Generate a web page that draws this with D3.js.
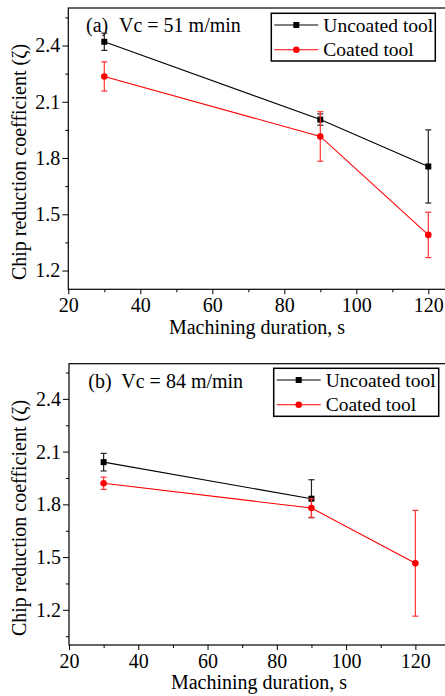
<!DOCTYPE html>
<html><head><meta charset="utf-8">
<script src="https://cdn.jsdelivr.net/npm/d3@7"></script>
<style>
html,body{margin:0;padding:0;background:#fff;}
svg{display:block;}
text{font-family:"Liberation Serif","Times New Roman",serif;fill:#000;}
</style></head>
<body>
<svg id="chart" width="445" height="696"></svg>
<script>
// ---- data ----
const durations = [30, 90, 120];
const xTicks = [20, 40, 60, 80, 100, 120];
const xMinorTicks = [30, 50, 70, 90, 110, 130];
const yTicks = [1.2, 1.5, 1.8, 2.1, 2.4];
const yMinorTicks = [1.05, 1.35, 1.65, 1.95, 2.25, 2.55];
const seriesNames = ["Uncoated tool", "Coated tool"];

// panel (a) Vc = 51 m/min
const aUncoated = [2.42, 2.005, 1.755];
const aUncoatedErr = [0.046, 0.03, 0.195];
const aCoated = [2.235, 1.915, 1.39];
const aCoatedErr = [0.078, 0.132, 0.121];

// panel (b) Vc = 84 m/min
const bUncoatedX = [30, 90];
const bUncoated = [2.04, 1.832];
const bUncoatedErr = [0.05, 0.108];
const bCoated = [1.92, 1.779];
const bCoatedX = [30, 90, 120];
const bCoatedAll = [1.92, 1.779, 1.465];
const bCoatedErr = [0.035, 0.053, 0.301];

const svg = d3.select("#chart");

function panel(cfg) {
  const g = svg.append("g");
  const x = d3.scaleLinear().domain([20, 130]).range([cfg.left, cfg.right]);
  const y = d3.scaleLinear().domain(cfg.yDomain).range([cfg.bottom, cfg.top]);

  // frame
  g.append("rect").attr("x", cfg.left).attr("y", cfg.top)
    .attr("width", cfg.right - cfg.left).attr("height", cfg.bottom - cfg.top)
    .attr("fill", "none").attr("stroke", "#000").attr("stroke-width", 1.2);

  // axes
  const xa = g.append("g").attr("transform", `translate(0,${cfg.bottom})`)
    .call(d3.axisBottom(x).tickValues(xTicks).tickSize(5).tickPadding(4).tickFormat(d3.format("d")));
  g.append("g").attr("transform", `translate(0,${cfg.bottom})`)
    .call(d3.axisBottom(x).tickValues(xMinorTicks).tickSize(3).tickFormat(""));
  const ya = g.append("g").attr("transform", `translate(${cfg.left},0)`)
    .call(d3.axisLeft(y).tickValues(yTicks).tickSize(6).tickPadding(2).tickFormat(d3.format(".1f")));
  g.append("g").attr("transform", `translate(${cfg.left},0)`)
    .call(d3.axisLeft(y).tickValues(yMinorTicks.filter(v => v > cfg.yDomain[0])).tickSize(3).tickFormat(""));
  g.selectAll(".domain").remove();
  g.selectAll(".tick line").attr("stroke", "#000").attr("stroke-width", 1);
  xa.selectAll("text").attr("font-size", 20).attr("font-family", "Liberation Serif");
  ya.selectAll("text").attr("font-size", 20).attr("font-family", "Liberation Serif");

  // axis titles
  g.append("text").attr("x", cfg.xTitleX).attr("y", cfg.xTitleY).attr("text-anchor", "middle")
    .attr("font-size", 20).text("Machining duration, s");
  g.append("text").attr("transform", `translate(${cfg.yTitleX},${cfg.yTitleY}) rotate(-90)`)
    .attr("text-anchor", "middle").attr("font-size", 20).text("Chip reduction coefficient (ζ)");

  // annotation
  g.append("text").attr("x", cfg.annX).attr("y", cfg.annY).attr("font-size", 20).text(cfg.label);
  g.append("text").attr("x", cfg.annX + 33).attr("y", cfg.annY).attr("font-size", 20).text(cfg.vc);

  const line = d3.line().x(d => x(d[0])).y(d => y(d[1]));

  function drawSeries(xs, vals, errs, color, errColor, marker) {
    const pts = xs.map((d, i) => [d, vals[i], errs[i]]);
    g.append("path").datum(pts).attr("d", line).attr("fill", "none")
      .attr("stroke", color).attr("stroke-width", 1.1);
    const eb = g.append("g");
    pts.forEach(p => {
      const cx = x(p[0]);
      eb.append("line").attr("x1", cx).attr("x2", cx).attr("y1", y(p[1] - p[2])).attr("y2", y(p[1] + p[2]))
        .attr("stroke", errColor).attr("stroke-width", 1.2);
      [p[1] - p[2], p[1] + p[2]].forEach(v => {
        eb.append("line").attr("x1", cx - 3).attr("x2", cx + 3).attr("y1", y(v)).attr("y2", y(v))
          .attr("stroke", errColor).attr("stroke-width", 1.2);
      });
    });
    pts.forEach(p => marker(x(p[0]), y(p[1])));
  }
  const square = (cx, cy) => g.append("rect").attr("x", cx - 3).attr("y", cy - 3)
    .attr("width", 6).attr("height", 6).attr("fill", "#000");
  const circle = (cx, cy) => g.append("circle").attr("cx", cx).attr("cy", cy).attr("r", 3.3).attr("fill", "#ff0000");

  cfg.series.forEach(s => {
    drawSeries(s.xs, s.vals, s.errs, s.color, s.errColor, s.marker === "square" ? square : circle);
  });

  // legend
  const L = cfg.legend;
  g.append("rect").attr("x", L.x).attr("y", L.y).attr("width", L.w).attr("height", L.h)
    .attr("fill", "#fff").attr("stroke", "#000").attr("stroke-width", 1.5);
  cfg.series.forEach((s, i) => {
    const ry = L.y + 11.7 + i * 24.7;
    g.append("line").attr("x1", L.x + 3).attr("x2", L.x + 47).attr("y1", ry).attr("y2", ry)
      .attr("stroke", s.color).attr("stroke-width", 1.1);
    (s.marker === "square" ? square : circle)(L.x + 25, ry);
    g.append("text").attr("x", L.x + 52).attr("y", ry + 6.5).attr("font-size", 19.5).text(seriesNames[i]);
  });
}

panel({
  left: 68.3, right: 464.3, top: 8, bottom: 289.3, yDomain: [1.1, 2.6],
  xTitleX: 257, xTitleY: 334, yTitleX: 26, yTitleY: 162,
  annX: 86, annY: 31.5, label: "(a)", vc: "Vc = 51 m/min",
  legend: { x: 271.3, y: 13.3, w: 164, h: 47.7 },
  series: [
    { xs: durations, vals: aUncoated, errs: aUncoatedErr, color: "#000", errColor: "#222", marker: "square" },
    { xs: durations, vals: aCoated, errs: aCoatedErr, color: "#ff0000", errColor: "#ff3333", marker: "circle" }
  ]
});

panel({
  left: 69, right: 450, top: 363.7, bottom: 645, yDomain: [1.0, 2.6],
  xTitleX: 259, xTitleY: 689, yTitleX: 26, yTitleY: 518,
  annX: 88.3, annY: 387.5, label: "(b)", vc: "Vc = 84 m/min",
  legend: { x: 273.7, y: 368.3, w: 165, h: 48 },
  series: [
    { xs: bUncoatedX, vals: bUncoated, errs: bUncoatedErr, color: "#000", errColor: "#222", marker: "square" },
    { xs: bCoatedX, vals: bCoatedAll, errs: bCoatedErr, color: "#ff0000", errColor: "#ff3333", marker: "circle" }
  ]
});
</script>
</body></html>
